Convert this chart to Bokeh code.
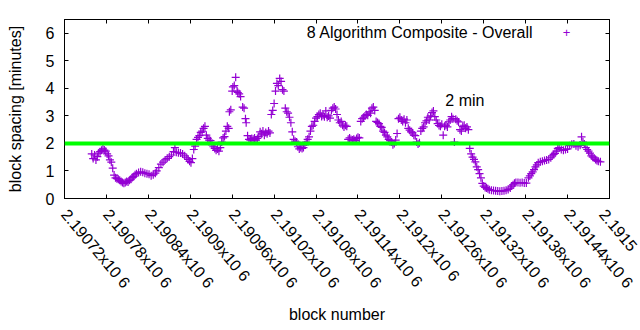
import math
from bokeh.plotting import figure
from bokeh.models import Range1d, FixedTicker, LinearAxis, Span, Label, CustomJSTickFormatter
from bokeh.embed import file_html
from bokeh.resources import INLINE

# ---------------- data ----------------
blocks = [
    2190759, 2190761, 2190763, 2190765, 2190767, 2190769, 2190771, 2190773, 2190775, 2190777,
    2190779, 2190781, 2190783, 2190785, 2190787, 2190789, 2190791, 2190793, 2190795, 2190797,
    2190799, 2190801, 2190803, 2190805, 2190807, 2190809, 2190811, 2190813, 2190815, 2190817,
    2190819, 2190821, 2190823, 2190826, 2190829, 2190832, 2190835, 2190838, 2190841, 2190844,
    2190847, 2190850, 2190852, 2190855, 2190858, 2190861, 2190864, 2190867, 2190870, 2190873,
    2190876, 2190878, 2190880, 2190883, 2190886, 2190889, 2190892, 2190895, 2190897, 2190899,
    2190901, 2190903, 2190905, 2190907, 2190909, 2190911, 2190913, 2190915, 2190917, 2190919,
    2190921, 2190923, 2190925, 2190927, 2190929, 2190931, 2190933, 2190935, 2190937, 2190939,
    2190941, 2190943, 2190945, 2190947, 2190949, 2190951, 2190953, 2190955, 2190956, 2190958,
    2190960, 2190961, 2190963, 2190965, 2190967, 2190968, 2190970, 2190972, 2190975, 2190977,
    2190979, 2190980, 2190982, 2190984, 2190986, 2190988, 2190990, 2190992, 2190994, 2190996,
    2190998, 2191000, 2191002, 2191004, 2191006, 2191008, 2191010, 2191012, 2191014, 2191016,
    2191018, 2191020, 2191022, 2191024, 2191026, 2191028, 2191030, 2191032, 2191034, 2191036,
    2191038, 2191040, 2191042, 2191044, 2191046, 2191048, 2191050, 2191052, 2191054, 2191056,
    2191058, 2191060, 2191062, 2191064, 2191066, 2191068, 2191070, 2191072, 2191074, 2191076,
    2191078, 2191080, 2191082, 2191084, 2191086, 2191088, 2191090, 2191092, 2191094, 2191096,
    2191098, 2191100, 2191102, 2191104, 2191106, 2191108, 2191110, 2191112, 2191114, 2191116,
    2191118, 2191120, 2191122, 2191124, 2191126, 2191128, 2191130, 2191132, 2191134, 2191136,
    2191138, 2191140, 2191142, 2191144, 2191146, 2191148, 2191150, 2191152, 2191154, 2191156,
    2191158, 2191160, 2191162, 2191164, 2191166, 2191168, 2191170, 2191172, 2191174, 2191176,
    2191178, 2191180, 2191182, 2191184, 2191186, 2191188, 2191190, 2191192, 2191194, 2191196,
    2191198, 2191200, 2191202, 2191204, 2191206, 2191208, 2191210, 2191212, 2191214, 2191216,
    2191218, 2191220, 2191222, 2191224, 2191226, 2191228, 2191230, 2191232, 2191234, 2191236,
    2191238, 2191240, 2191242, 2191244, 2191246, 2191248, 2191250, 2191252, 2191254, 2191256,
    2191258, 2191260, 2191262, 2191264, 2191266, 2191268, 2191270, 2191272, 2191274, 2191276,
    2191278, 2191280, 2191282, 2191284, 2191286, 2191288, 2191290, 2191292, 2191294, 2191296,
    2191298, 2191300, 2191302, 2191304, 2191306, 2191308, 2191310, 2191312, 2191314, 2191316,
    2191318, 2191320, 2191322, 2191324, 2191326, 2191328, 2191331, 2191334, 2191337, 2191340,
    2191343, 2191346, 2191349, 2191352, 2191355, 2191358, 2191360, 2191362, 2191364, 2191366,
    2191369, 2191372, 2191375, 2191378, 2191381, 2191384, 2191386, 2191388, 2191390, 2191392,
    2191394, 2191396, 2191398, 2191401, 2191404, 2191407, 2191410, 2191413, 2191416, 2191418,
    2191420, 2191422, 2191424, 2191426, 2191428, 2191431, 2191434, 2191437, 2191440, 2191443,
    2191446, 2191449, 2191452, 2191455, 2191458, 2191460, 2191462, 2191464, 2191466, 2191468,
    2191470, 2191472, 2191474, 2191476, 2191478, 2191480, 2191482, 2191484, 2191487,
]

spacing = [
    1.62, 1.45, 1.58, 1.40, 1.52, 1.65, 1.70, 1.75, 1.80, 1.76,
    1.72, 1.62, 1.55, 1.40, 1.32, 1.10, 0.85, 0.75, 0.72, 0.70,
    0.66, 0.62, 0.58, 0.55, 0.58, 0.62, 0.60, 0.66, 0.70, 0.76,
    0.80, 0.86, 0.90, 0.94, 0.97, 0.95, 0.92, 0.90, 0.88, 0.83,
    0.86, 0.92, 1.00, 1.12, 1.25, 1.32, 1.40, 1.46, 1.52, 1.58,
    1.70, 1.85, 1.68, 1.66, 1.65, 1.62, 1.55, 1.48, 1.42, 1.35,
    1.30, 1.45, 1.78, 1.90, 2.15, 2.22, 2.28, 2.40, 2.45, 2.55,
    2.62, 2.30, 2.18, 2.12, 2.10, 1.95, 1.88, 1.82, 1.75, 1.80,
    1.72, 1.85, 2.05, 2.20, 2.25, 2.45, 2.62, 2.55, 3.15, 3.22,
    3.90, 4.05, 4.10, 4.40, 3.90, 3.85, 3.80, 3.70, 3.32, 3.28,
    2.90, 2.75, 2.28, 2.15, 2.12, 2.18, 2.15, 2.20, 2.12, 2.18,
    2.25, 2.42, 2.35, 2.45, 2.30, 2.40, 2.35, 2.45, 2.38, 3.05,
    3.20, 3.45, 3.90, 4.18, 4.10, 4.36, 4.25, 3.95, 3.90, 3.28,
    3.15, 3.10, 2.95, 2.75, 2.42, 2.15, 2.08, 2.05, 1.88, 1.80,
    1.85, 1.82, 1.85, 1.95, 2.05, 2.15, 2.24, 2.45, 2.62, 2.66,
    2.80, 2.92, 2.97, 3.05, 3.10, 2.98, 3.02, 2.97, 3.18, 2.95,
    3.00, 2.92, 3.20, 3.28, 3.32, 3.25, 3.05, 2.85, 2.75, 2.80,
    2.66, 2.60, 2.66, 2.62, 2.15, 2.20, 2.14, 2.12, 2.15, 2.10,
    2.18, 2.22, 2.20, 2.80, 2.90, 2.95, 3.00, 3.05, 3.02, 3.15,
    3.10, 3.28, 3.32, 3.20, 2.80, 2.76, 2.72, 2.62, 2.58, 2.45,
    2.40, 2.30, 2.24, 2.15, 2.10, 2.05, 1.95, 2.00, 2.12, 2.36,
    2.90, 2.95, 2.85, 2.80, 2.88, 2.75, 2.85, 2.55, 2.48, 2.42,
    2.38, 2.30, 2.28, 2.05, 1.98, 2.02, 2.45, 2.55, 2.60, 2.75,
    2.82, 2.95, 2.85, 3.00, 3.12, 3.18, 2.97, 2.85, 2.72, 2.65,
    2.62, 2.70, 2.30, 2.62, 2.66, 2.60, 2.78, 2.85, 2.97, 2.90,
    2.05, 2.88, 2.82, 2.78, 2.50, 2.45, 2.62, 2.66, 2.55, 2.60,
    2.50, 1.82, 1.62, 1.50, 1.42, 1.33, 1.15, 1.05, 0.90, 0.75,
    0.55, 0.45, 0.40, 0.38, 0.35, 0.32, 0.30, 0.29, 0.28, 0.27,
    0.26, 0.27, 0.28, 0.30, 0.33, 0.38, 0.45, 0.50, 0.55, 0.58,
    0.58, 0.57, 0.58, 0.56, 0.56, 0.75, 0.82, 0.90, 0.97, 1.05,
    1.15, 1.22, 1.30, 1.33, 1.35, 1.38, 1.40, 1.42, 1.48, 1.55,
    1.60, 1.64, 1.72, 1.82, 1.85, 1.78, 1.75, 1.78, 1.80, 1.92,
    1.97, 1.98, 1.92, 1.88, 1.93, 2.24, 2.05, 1.98, 1.85, 1.78,
    1.72, 1.65, 1.55, 1.50, 1.47, 1.42, 1.38, 1.35, 1.33,
]

x_ticks = [2190720, 2190780, 2190840, 2190900, 2190960, 2191020, 2191080,
           2191140, 2191200, 2191260, 2191320, 2191380, 2191440, 2191500]
# the range-end label is cut by the right edge of the original picture: only its
# visible part is kept, so that it sits at its tick like the others
x_tick_labels = ["2.19072x10 6", "2.19078x10 6", "2.19084x10 6", "2.1909x10 6",
                 "2.19096x10 6", "2.19102x10 6", "2.19108x10 6", "2.19114x10 6",
                 "2.1912x10 6", "2.19126x10 6", "2.19132x10 6", "2.19138x10 6",
                 "2.19144x10 6", "2.1915"]
y_ticks = [0, 1, 2, 3, 4, 5, 6]
x_limits = (2190720, 2191500)
y_limits = (0, 6.5)

target_minutes = 2
series_name = "8 Algorithm Composite - Overall"
key_symbol = "+"
note_text = "2 min"
note_x = 2191265
note_y = 3.55

# ---------------- style ----------------
FONT = "Liberation Sans"
FS = "16px"
PURPLE = "#9400d3"
GREEN = "#00ff00"
TICK_ANGLE = -50 * math.pi / 180
TICK_STANDOFF = 13

p = figure(width=640, height=330, output_backend="svg", toolbar_location=None,
           x_range=Range1d(*x_limits), y_range=Range1d(*y_limits),
           min_border_left=64, min_border_right=31, min_border_top=19, min_border_bottom=132,
           x_axis_label="block number", y_axis_label="block spacing [minutes]")
p.background_fill_color = "white"
p.border_fill_color = "white"
p.outline_line_color = "black"
p.outline_line_width = 1
p.xgrid.visible = False
p.ygrid.visible = False

r = p.scatter(blocks, spacing, marker="cross", size=8, line_color=PURPLE, line_width=1.2)

p.add_layout(Span(location=target_minutes, dimension="width", line_color=GREEN, line_width=4))

p.add_layout(Label(x=note_x, y=note_y, text=note_text, text_font=FONT, text_font_size=FS,
                   text_color="black", text_align="left", text_baseline="middle"))

# key (gnuplot style: text right-aligned, sample symbol to its right), anchored at the
# frame's top-right corner with pixel offsets
p.add_layout(Label(x=x_limits[1], y=y_limits[1], x_offset=-76, y_offset=-13,
                   text=series_name, text_font=FONT, text_font_size=FS, text_color="black",
                   text_align="right", text_baseline="middle"))
p.add_layout(Label(x=x_limits[1], y=y_limits[1], x_offset=-43, y_offset=-13,
                   text=key_symbol, text_font=FONT, text_font_size="13px", text_color=PURPLE,
                   text_align="center", text_baseline="middle"))


def style_axis(ax):
    ax.axis_line_color = "black"
    ax.major_tick_line_color = "black"
    ax.major_tick_in = 4
    ax.major_tick_out = 0
    ax.minor_tick_line_color = None
    ax.major_label_text_font = FONT
    ax.major_label_text_font_size = FS
    ax.major_label_text_color = "black"
    ax.axis_label_text_font = FONT
    ax.axis_label_text_font_size = FS
    ax.axis_label_text_font_style = "normal"
    ax.axis_label_text_color = "black"


xa = p.below[0]
ya = p.left[0]
style_axis(xa)
style_axis(ya)
xa.ticker = FixedTicker(ticks=x_ticks)
xa.major_label_overrides = dict(zip(x_ticks, x_tick_labels))
xa.major_label_orientation = TICK_ANGLE
xa.major_label_standoff = TICK_STANDOFF
xa.axis_label_standoff = 6

ya.ticker = FixedTicker(ticks=y_ticks)
ya.major_label_standoff = 10
ya.axis_label_standoff = 19

blank = CustomJSTickFormatter(code="return ''")
ra = LinearAxis(ticker=FixedTicker(ticks=y_ticks), formatter=blank, major_label_standoff=0)
style_axis(ra)
ra.major_label_text_font_size = "1px"
p.add_layout(ra, "right")
aa = LinearAxis(ticker=FixedTicker(ticks=x_ticks), formatter=blank, major_label_standoff=0)
style_axis(aa)
aa.major_label_text_font_size = "1px"
p.add_layout(aa, "above")

open("out.html", "w").write(file_html(p, INLINE))
